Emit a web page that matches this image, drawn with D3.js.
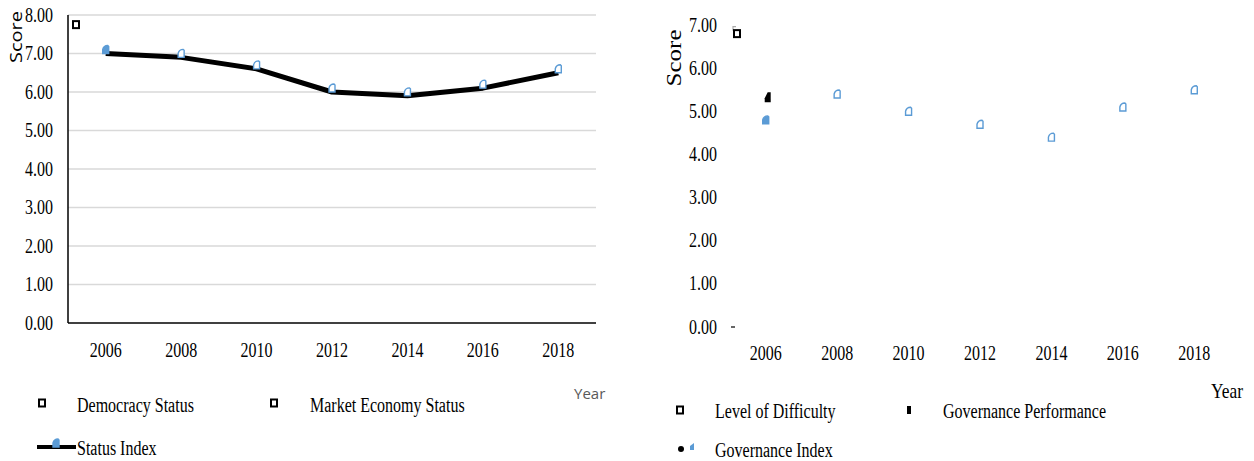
<!DOCTYPE html>
<html>
<head>
<meta charset="utf-8">
<script src="https://cdn.jsdelivr.net/npm/d3@7"></script>
<style>
  body { margin: 0; background: #fff; }
  svg { display: block; }
  .serif { font-family: "Liberation Serif", "Times New Roman", serif; fill: #000; }
  .sans { font-family: "Open Sans", "Liberation Sans", sans-serif; }
</style>
</head>
<body>
<div id="chart"></div>
<script>
// years on both charts
var years = ["2006", "2008", "2010", "2012", "2014", "2016", "2018"];

// left chart (status)
var statusIndex = [7.0, 6.9, 6.6, 6.0, 5.9, 6.1, 6.5];
var democracyStatus = [7.75];          // only the first point is visible
var marketEconomyStatus = [];          // nothing visible
var leftTicks = [0, 1, 2, 3, 4, 5, 6, 7, 8];

// right chart (governance)
var governanceIndex = [4.8, 5.4, 5.0, 4.7, 4.4, 5.1, 5.5];
var governancePerformance = [5.3];
var levelOfDifficulty = [6.8];
var rightTicks = [0, 1, 2, 3, 4, 5, 6, 7];

var width = 1254, height = 461;
var blue = "#5B9BD5";
var fmt = d3.format(".2f");
var FS = 20;      // serif font size, squeezed horizontally like the source
var SQ = 0.8;

var svg = d3.select("#chart").append("svg")
  .attr("width", width)
  .attr("height", height);

// squeeze the text horizontally (the original looks narrow)
function squeeze(sel) {
  sel.each(function(){
    var w = this.getComputedTextLength();
    d3.select(this)
      .attr("textLength", w * SQ)
      .attr("lengthAdjust", "spacingAndGlyphs");
  });
}

// little blue "drop" marker used for the index series
function drop(g, x, y, filled) {
  g.append("path")
    .attr("transform", "translate(" + x + "," + y + ")")
    .attr("d", "M-3,1 L-3,-3 Q-2,-7 2,-7 L3,-6 L3,1 Z")
    .attr("fill", filled ? blue : "#fff")
    .attr("stroke", blue)
    .attr("stroke-width", 1.4);
}
function square(g, x, y, fill) {
  g.append("rect")
    .attr("x", x - 3).attr("y", y - 3.5)
    .attr("width", 6).attr("height", 7)
    .attr("fill", fill)
    .attr("stroke", "#000")
    .attr("stroke-width", 2);
}
function label(g, x, y, txt) {
  g.append("text").attr("class", "serif")
    .attr("x", x).attr("y", y)
    .attr("font-size", FS)
    .text(txt)
    .call(squeeze);
}

// ---------------- left chart ----------------
var xL = d3.scaleBand().domain(years).range([68, 596]);
var yL = d3.scaleLinear().domain([0, 8]).range([323, 15]);
var gL = svg.append("g");

// gridlines
gL.selectAll(".grid").data(leftTicks.slice(1)).enter()
  .append("line")
  .attr("x1", xL.range()[0]).attr("x2", xL.range()[1])
  .attr("y1", function(d){ return yL(d); })
  .attr("y2", function(d){ return yL(d); })
  .attr("stroke", "#d9d9d9")
  .attr("stroke-width", 1.5);

// axis lines
gL.append("line")
  .attr("x1", xL.range()[0]).attr("x2", xL.range()[0])
  .attr("y1", yL(8)).attr("y2", yL(0))
  .attr("stroke", "#000").attr("stroke-width", 1.5);
gL.append("line")
  .attr("x1", xL.range()[0]).attr("x2", xL.range()[1])
  .attr("y1", yL(0)).attr("y2", yL(0))
  .attr("stroke", "#000").attr("stroke-width", 1.5);

// y tick labels
gL.selectAll(".ytl").data(leftTicks).enter()
  .append("text")
  .attr("class", "serif")
  .attr("x", 53)
  .attr("y", function(d){ return yL(d); })
  .attr("dy", "0.33em")
  .attr("text-anchor", "end")
  .attr("font-size", FS)
  .text(function(d){ return fmt(d); })
  .call(squeeze);

// x tick labels
gL.selectAll(".xtl").data(years).enter()
  .append("text")
  .attr("class", "serif")
  .attr("x", function(d){ return xL(d) + xL.bandwidth() / 2; })
  .attr("y", 357)
  .attr("text-anchor", "middle")
  .attr("font-size", FS)
  .text(function(d){ return d; })
  .call(squeeze);

// axis titles
gL.append("text")
  .attr("class", "sans")
  .attr("transform", "translate(22,37) rotate(-90)")
  .attr("text-anchor", "middle")
  .attr("font-size", 17)
  .attr("fill", "#000")
  .attr("textLength", 52)
  .attr("lengthAdjust", "spacingAndGlyphs")
  .text("Score");
gL.append("text")
  .attr("class", "sans")
  .attr("x", 574).attr("y", 399)
  .attr("font-size", 15)
  .attr("fill", "#595959")
  .text("Year");

// status index line
var lineL = d3.line()
  .x(function(d, i){ return xL(years[i]) + xL.bandwidth() / 2; })
  .y(function(d){ return yL(d); });
gL.append("path")
  .datum(statusIndex)
  .attr("d", lineL)
  .attr("fill", "none")
  .attr("stroke", "#000")
  .attr("stroke-width", 5)
  .attr("stroke-linejoin", "round");
statusIndex.forEach(function(v, i){
  drop(gL, xL(years[i]) + xL.bandwidth() / 2, yL(v) - 1, i === 0);
});

// democracy status
democracyStatus.forEach(function(v, i){
  square(gL, xL(years[i]) + 8, yL(v), "#fff");
});

// legend
square(gL, 42, 403, "#fff");
label(gL, 77, 412, "Democracy Status");
square(gL, 274, 403, "#fff");
label(gL, 310, 412, "Market Economy Status");
gL.append("line")
  .attr("x1", 37).attr("x2", 76).attr("y1", 447).attr("y2", 447)
  .attr("stroke", "#000").attr("stroke-width", 4);
drop(gL, 56, 446, true);
label(gL, 77, 455, "Status Index");

// ---------------- right chart ----------------
var xR = d3.scaleBand().domain(years).range([730, 1230]);
var yR = d3.scaleLinear().domain([0, 7]).range([327, 25]);
var gR = svg.append("g");

gR.selectAll(".ytl").data(rightTicks).enter()
  .append("text")
  .attr("class", "serif")
  .attr("x", 717)
  .attr("y", function(d){ return yR(d); })
  .attr("dy", "0.33em")
  .attr("text-anchor", "end")
  .attr("font-size", FS)
  .text(function(d){ return fmt(d); })
  .call(squeeze);

// small dash at zero
gR.append("line")
  .attr("x1", 731).attr("x2", 735)
  .attr("y1", yR(0)).attr("y2", yR(0))
  .attr("stroke", "#000").attr("stroke-width", 1.2);

gR.selectAll(".xtl").data(years).enter()
  .append("text")
  .attr("class", "serif")
  .attr("x", function(d){ return xR(d) + xR.bandwidth() / 2; })
  .attr("y", 360)
  .attr("text-anchor", "middle")
  .attr("font-size", FS)
  .text(function(d){ return d; })
  .call(squeeze);

gR.append("text")
  .attr("class", "serif")
  .attr("transform", "translate(681,58) rotate(-90)")
  .attr("text-anchor", "middle")
  .attr("font-size", 20)
  .attr("textLength", 57)
  .attr("lengthAdjust", "spacingAndGlyphs")
  .text("Score");
gR.append("text")
  .attr("class", "serif")
  .attr("x", 1211).attr("y", 398)
  .attr("font-size", 22)
  .attr("textLength", 32)
  .attr("lengthAdjust", "spacingAndGlyphs")
  .text("Year");

// level of difficulty (with faint grey shadow mark)
levelOfDifficulty.forEach(function(v, i){
  gR.append("path")
    .attr("transform", "translate(" + (xR(years[i]) + 3) + "," + (yR(v) - 6) + ")")
    .attr("d", "M0,3 L0,-1 L3,-1")
    .attr("fill", "none").attr("stroke", "#aaa").attr("stroke-width", 1.2);
  square(gR, xR(years[i]) + 7, yR(v), "#fff");
});

// governance performance
governancePerformance.forEach(function(v, i){
  gR.append("path")
    .attr("transform", "translate(" + (xR(years[i]) + xR.bandwidth() / 2 + 2) + "," + yR(v) + ")")
    .attr("d", "M-3,4 L-3,0 L0,-6 L3,-6 L3,4 Z")
    .attr("fill", "#000");
});

// governance index
governanceIndex.forEach(function(v, i){
  drop(gR, xR(years[i]) + xR.bandwidth() / 2, yR(v) + 3, i === 0);
});

// legend
square(gR, 680, 410, "#fff");
label(gR, 715, 418, "Level of Difficulty");
gR.append("rect").attr("x", 907).attr("y", 406).attr("width", 4).attr("height", 8).attr("fill", "#000");
label(gR, 943, 418, "Governance Performance");
gR.append("circle").attr("cx", 681).attr("cy", 449).attr("r", 3).attr("fill", "#000");
gR.append("path")
  .attr("transform", "translate(692,449)")
  .attr("d", "M-2,1 L-2,-3 L2,-6 L2,1 Z")
  .attr("fill", blue);
label(gR, 715, 457, "Governance Index");
</script>
</body>
</html>
